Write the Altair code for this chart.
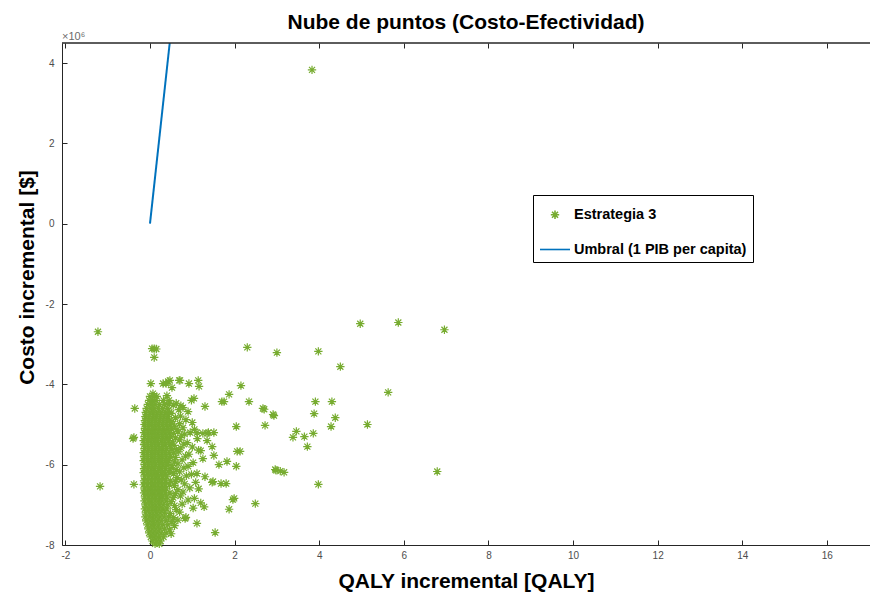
import altair as alt
import pandas as pd

# ---------------- data ----------------
# dense cloud near QALY 0, rows of equal incremental cost (millions $)
filas_costo = [-4.3, -4.4, -4.5, -4.6, -4.7, -4.8, -4.9, -5.0, -5.1, -5.2, -5.3, -5.4,
               -5.5, -5.6, -5.7, -5.8, -5.9, -6.0, -6.1, -6.2, -6.3, -6.4, -6.5, -6.6,
               -6.7, -6.8, -6.9, -7.0, -7.1, -7.2, -7.3, -7.4, -7.5, -7.6, -7.7, -7.8,
               -7.9, -7.97]
filas_qaly = [
    [0.0, 0.1, 0.16],
    [-0.02, 0.06, 0.14, 0.32, 0.45],
    [-0.05, 0.04, 0.12, 0.22, 0.34],
    [-0.08, 0.02, 0.1, 0.2, 0.3, 0.41],
    [-0.1, 0.0, 0.08, 0.17, 0.26, 0.36, 0.46],
    [-0.11, -0.02, 0.07, 0.15, 0.24, 0.33, 0.42],
    [-0.12, -0.03, 0.05, 0.13, 0.22, 0.31, 0.4, 0.47],
    [-0.13, -0.04, 0.04, 0.12, 0.2, 0.29, 0.38, 0.47],
    [-0.12, -0.03, 0.06, 0.14, 0.23, 0.32, 0.41, 0.5],
    [-0.14, -0.05, 0.03, 0.11, 0.19, 0.28, 0.36, 0.45],
    [-0.13, -0.04, 0.05, 0.13, 0.21, 0.3, 0.39, 0.48],
    [-0.15, -0.06, 0.02, 0.1, 0.18, 0.27, 0.35, 0.44],
    [-0.14, -0.05, 0.04, 0.12, 0.2, 0.29, 0.37, 0.46],
    [-0.13, -0.04, 0.05, 0.13, 0.22, 0.3, 0.39, 0.5],
    [-0.15, -0.06, 0.03, 0.11, 0.19, 0.28, 0.36, 0.45],
    [-0.14, -0.05, 0.04, 0.12, 0.21, 0.29, 0.38, 0.48],
    [-0.15, -0.06, 0.02, 0.1, 0.19, 0.27, 0.36, 0.44],
    [-0.13, -0.04, 0.05, 0.13, 0.22, 0.31, 0.4],
    [-0.14, -0.05, 0.03, 0.11, 0.2, 0.28, 0.37, 0.47],
    [-0.15, -0.06, 0.02, 0.1, 0.18, 0.27, 0.35, 0.45],
    [-0.13, -0.04, 0.05, 0.13, 0.21, 0.3, 0.39],
    [-0.14, -0.05, 0.04, 0.12, 0.2, 0.28, 0.37, 0.48],
    [-0.15, -0.06, 0.03, 0.11, 0.19, 0.28, 0.36, 0.46],
    [-0.13, -0.04, 0.04, 0.12, 0.21, 0.29, 0.38],
    [-0.14, -0.05, 0.03, 0.11, 0.19, 0.27, 0.36, 0.47],
    [-0.12, -0.03, 0.05, 0.13, 0.22, 0.3, 0.4],
    [-0.13, -0.04, 0.04, 0.12, 0.2, 0.28, 0.38],
    [-0.11, -0.02, 0.06, 0.14, 0.22, 0.31, 0.42],
    [-0.12, -0.03, 0.05, 0.13, 0.21, 0.3, 0.4],
    [-0.1, -0.01, 0.07, 0.15, 0.24, 0.34],
    [-0.11, -0.02, 0.06, 0.14, 0.23, 0.33, 0.44],
    [-0.09, 0.0, 0.08, 0.17, 0.26, 0.38],
    [-0.06, 0.03, 0.11, 0.2, 0.3, 0.42],
    [-0.04, 0.05, 0.14, 0.23, 0.34],
    [-0.02, 0.07, 0.16, 0.26, 0.38],
    [0.02, 0.1, 0.2, 0.32],
    [0.06, 0.16, 0.25],
    [0.12, 0.22],
]

# scattered points around and away from the cloud
qaly_disperso = [3.83, -1.23, -1.18, 0.05, 0.1, 0.15, 0.1, 2.30, 3.0, 3.98, 4.97, 5.87,
                 6.96, 4.5, 5.63, 6.79, 5.14, 2.15, 1.87, 1.75, 2.34, 2.70, 2.93, 3.91,
                 4.3, 3.88, 4.38, 4.28, 2.04, 2.72, 3.46, 3.38, 3.65, 3.86, 3.72, 2.06,
                 2.13, 2.04, 2.98, 3.17, 3.98, 1.47, 1.68, 1.80, 2.49, 1.96, 1.87, 1.54,
                 1.11, 0.83, -0.38, -0.38, -0.36, -0.40, 1.70, 1.47, 1.51, 1.63, 1.82,
                 1.49, 1.35, 1.30, 1.14, 0.69, 0.92, 0.43, 0.31, 0.52, 0.02, 0.07, 0.38,
                 0.47, 0.71, 1.16, 0.40, 1.04, 0.98, 0.73, 0.45, 1.11, 1.25, 1.38, 1.51,
                 1.35, 1.11, 1.99, 0.85, 1.2, 1.25, 1.3, 1.15, 1.2, 1.28, 2.67, 2.91, 2.96,
                 3.08,
                 0.55, 0.62, 0.68, 0.78, 0.5, 0.9, 0.6, 0.72, 0.52, 0.85, 1.0, 0.58, 0.7,
                 0.64, 0.78, 1.05, 0.55, 0.66, 0.82, 0.95, 0.6, 0.75, 1.12, 0.53, 0.7,
                 0.88, 0.57, 0.8, 1.0, 0.62, 0.73, 1.15, 0.56, 0.68, 0.92, 0.6, 0.84,
                 0.58, 0.76, 1.02, 0.52, 0.66, 0.9, 0.62, 0.8, 0.56, 0.7, 0.98, 0.64,
                 0.86, 0.6, 0.74, 1.08, 0.58, 0.82, 0.66, 0.94, 0.6, 0.78, 0.55, 0.72,
                 1.05, 0.5, 0.9, 0.58, 0.76, 0.62, 1.02, 0.48, 0.7, 0.56, 0.52, 0.66,
                 0.58, 0.46, 0.5]
costo_disperso = [3.83, -2.69, -6.54, -3.11, -3.11, -3.12, -3.33, -3.08, -3.21, -3.18, -2.49, -2.46,
                  -2.64, -3.56, -4.2, -6.17, -5.0, -4.03, -4.25, -4.43, -4.43, -4.62, -4.78, -4.43,
                  -4.43, -4.73, -4.83, -5.05, -5.05, -5.02, -5.17, -5.32, -5.30, -5.22, -5.55, -5.67,
                  -5.67, -6.04, -6.14, -6.19, -6.49, -6.44, -6.47, -6.47, -6.97, -6.87, -7.11, -7.69,
                  -7.46, -7.34, -6.49, -5.32, -4.6, -5.35, -4.43, -5.55, -5.77, -6.0, -5.92,
                  -6.42, -5.22, -4.55, -3.9, -3.9, -3.98, -3.93, -3.98, -4.08, -3.98, -4.23, -3.98,
                  -3.9, -3.9, -4.05, -4.28, -4.35, -4.4, -4.53, -4.48, -5.2, -5.22, -5.2, -5.2,
                  -5.4, -6.22, -6.84, -7.31, -5.65, -5.85, -6.3, -6.6, -6.95, -7.05, -4.6, -4.75, -6.12,
                  -6.16,
                  -4.52, -4.47, -4.63, -4.58, -4.72, -4.68, -4.83, -4.79, -4.93, -4.88, -4.95, -5.04, -4.98,
                  -5.13, -5.08, -5.12, -5.22, -5.18, -5.24, -5.2, -5.33, -5.28, -5.35, -5.43, -5.38,
                  -5.45, -5.52, -5.49, -5.56, -5.62, -5.58, -5.64, -5.71, -5.68, -5.74, -5.82, -5.79,
                  -5.93, -5.88, -5.95, -6.02, -5.98, -6.04, -6.12, -6.08, -6.22, -6.18, -6.24, -6.32,
                  -6.28, -6.42, -6.38, -6.44, -6.52, -6.48, -6.62, -6.58, -6.72, -6.68, -6.82, -6.78,
                  -6.84, -6.92, -6.88, -7.02, -6.98, -7.12, -7.08, -7.22, -7.18, -7.32, -7.42, -7.38,
                  -7.52, -7.62, -7.72]

# threshold line (1 PIB per capita)
umbral_qaly = [0.0, 0.466]
umbral_costo = [0.0, 4.5]

series = ["Estrategia 3", "Umbral (1 PIB per capita)"]
colores = ["#77AC30", "#0072BD"]

# ---------------- tables ----------------
qs, cs = [], []
for c, fila in zip(filas_costo, filas_qaly):
    for q in fila:
        qs.append(q)
        cs.append(c)
qs += qaly_disperso
cs += costo_disperso[:len(qaly_disperso)]
df_puntos = pd.DataFrame({"qaly": qs, "costo": cs[:len(qs)], "serie": series[0]})
df_linea = pd.DataFrame({"qaly": umbral_qaly, "costo": umbral_costo, "serie": series[1]})

FONT = "Liberation Sans"
XDOM = [-2.08, 17.02]
YDOM = [-8.0, 4.5]
XT = list(range(-2, 17, 2))
YT = list(range(-8, 5, 2))
asterisco = "M-1,0L1,0M0,-1L0,1M-0.72,-0.72L0.72,0.72M-0.72,0.72L0.72,-0.72"

xs = alt.Scale(domain=XDOM, nice=False, zero=False)
ys = alt.Scale(domain=YDOM, nice=False, zero=False)
leyenda = alt.Legend(title=" ")
color = alt.Color("serie:N", scale=alt.Scale(domain=series, range=colores), legend=leyenda)

puntos = alt.Chart(df_puntos).mark_point(filled=False, strokeWidth=1.2, opacity=1).encode(
    x=alt.X("qaly:Q", scale=xs, axis=alt.Axis(
        orient="bottom", values=XT, ticks=False, domain=True, grid=False,
        labelExpr="'' + datum.value", labelPadding=5, labelFontSize=10, labelColor="#4d4d4d",
        title="QALY incremental [QALY]", titleFontSize=21, titleFontWeight="bold",
        titleColor="#000000", titlePadding=10)),
    y=alt.Y("costo:Q", scale=ys, axis=alt.Axis(
        orient="left", values=YT, ticks=False, domain=True, grid=False,
        labelExpr="'' + datum.value", labelPadding=8, labelFontSize=10, labelColor="#4d4d4d",
        title="Costo incremental [$]", titleFontSize=21, titleFontWeight="bold",
        titleColor="#000000", titlePadding=8, titleY=234)),
    color=color,
    shape=alt.Shape("serie:N", scale=alt.Scale(domain=series, range=[asterisco, "stroke"]),
                    legend=leyenda),
    size=alt.Size("serie:N", scale=alt.Scale(type="ordinal", domain=series, range=[70, 900]),
                  legend=leyenda),
)

linea = alt.Chart(df_linea).mark_line(strokeWidth=2).encode(
    x=alt.X("qaly:Q", scale=xs, axis=alt.Axis(
        orient="bottom", values=XT, offset=-5, ticks=True, tickSize=5, tickColor="#262626",
        labels=False, domain=False, grid=False, title=None)),
    y=alt.Y("costo:Q", scale=ys, axis=alt.Axis(
        orient="left", values=YT, offset=-5, ticks=True, tickSize=5, tickColor="#262626",
        labels=False, domain=False, grid=False, title=None)),
    color=color,
)

marco = alt.Chart(df_linea).mark_point(opacity=0).encode(
    x=alt.X("qaly:Q", scale=xs, axis=alt.Axis(
        orient="top", values=XT, offset=-5, ticks=True, tickSize=5, tickColor="#262626",
        labels=False, domain=False, grid=False, title=None)),
    y=alt.Y("costo:Q", scale=ys, axis=None),
)

borde_sup = alt.Chart(df_linea).mark_rule(color="#262626", strokeWidth=1).encode(
    x=alt.value(0), x2=alt.value(808), y=alt.value(0))

texto = alt.Chart(pd.DataFrame({"t": ["×10⁶"]})).mark_text(
    align="left", baseline="bottom", fontSize=11, color="#6b6b6b", font=FONT
).encode(x=alt.value(0), y=alt.value(-1), text="t:N")

chart = alt.layer(puntos, linea, marco, borde_sup, texto).resolve_axis(
    x="independent", y="independent"
).properties(
    width=808, height=502,
    autosize=alt.AutoSizeParams(type="none"),
    padding={"left": 54, "top": 35, "right": 0, "bottom": 50},
    title=alt.TitleParams("Nube de puntos (Costo-Efectividad)", fontSize=21,
                          fontWeight="bold", font=FONT, color="#000000", offset=-2,
                          anchor="middle"),
).configure(font=FONT).configure_view(stroke=None).configure_axis(
    domainColor="#262626", labelFont=FONT, titleFont=FONT
).configure_legend(
    orient="none", legendX=471, legendY=152, padding=6, strokeColor="#000000",
    fillColor="#ffffff", labelFontSize=14.5, labelFontWeight="bold", labelColor="#000000",
    labelFont=FONT, rowPadding=11, labelOffset=3, symbolStrokeWidth=1.6, labelLimit=400,
    titleFontSize=1, titlePadding=5.5
)

chart.save("out.html", embed_options={"renderer": "svg", "actions": False})
